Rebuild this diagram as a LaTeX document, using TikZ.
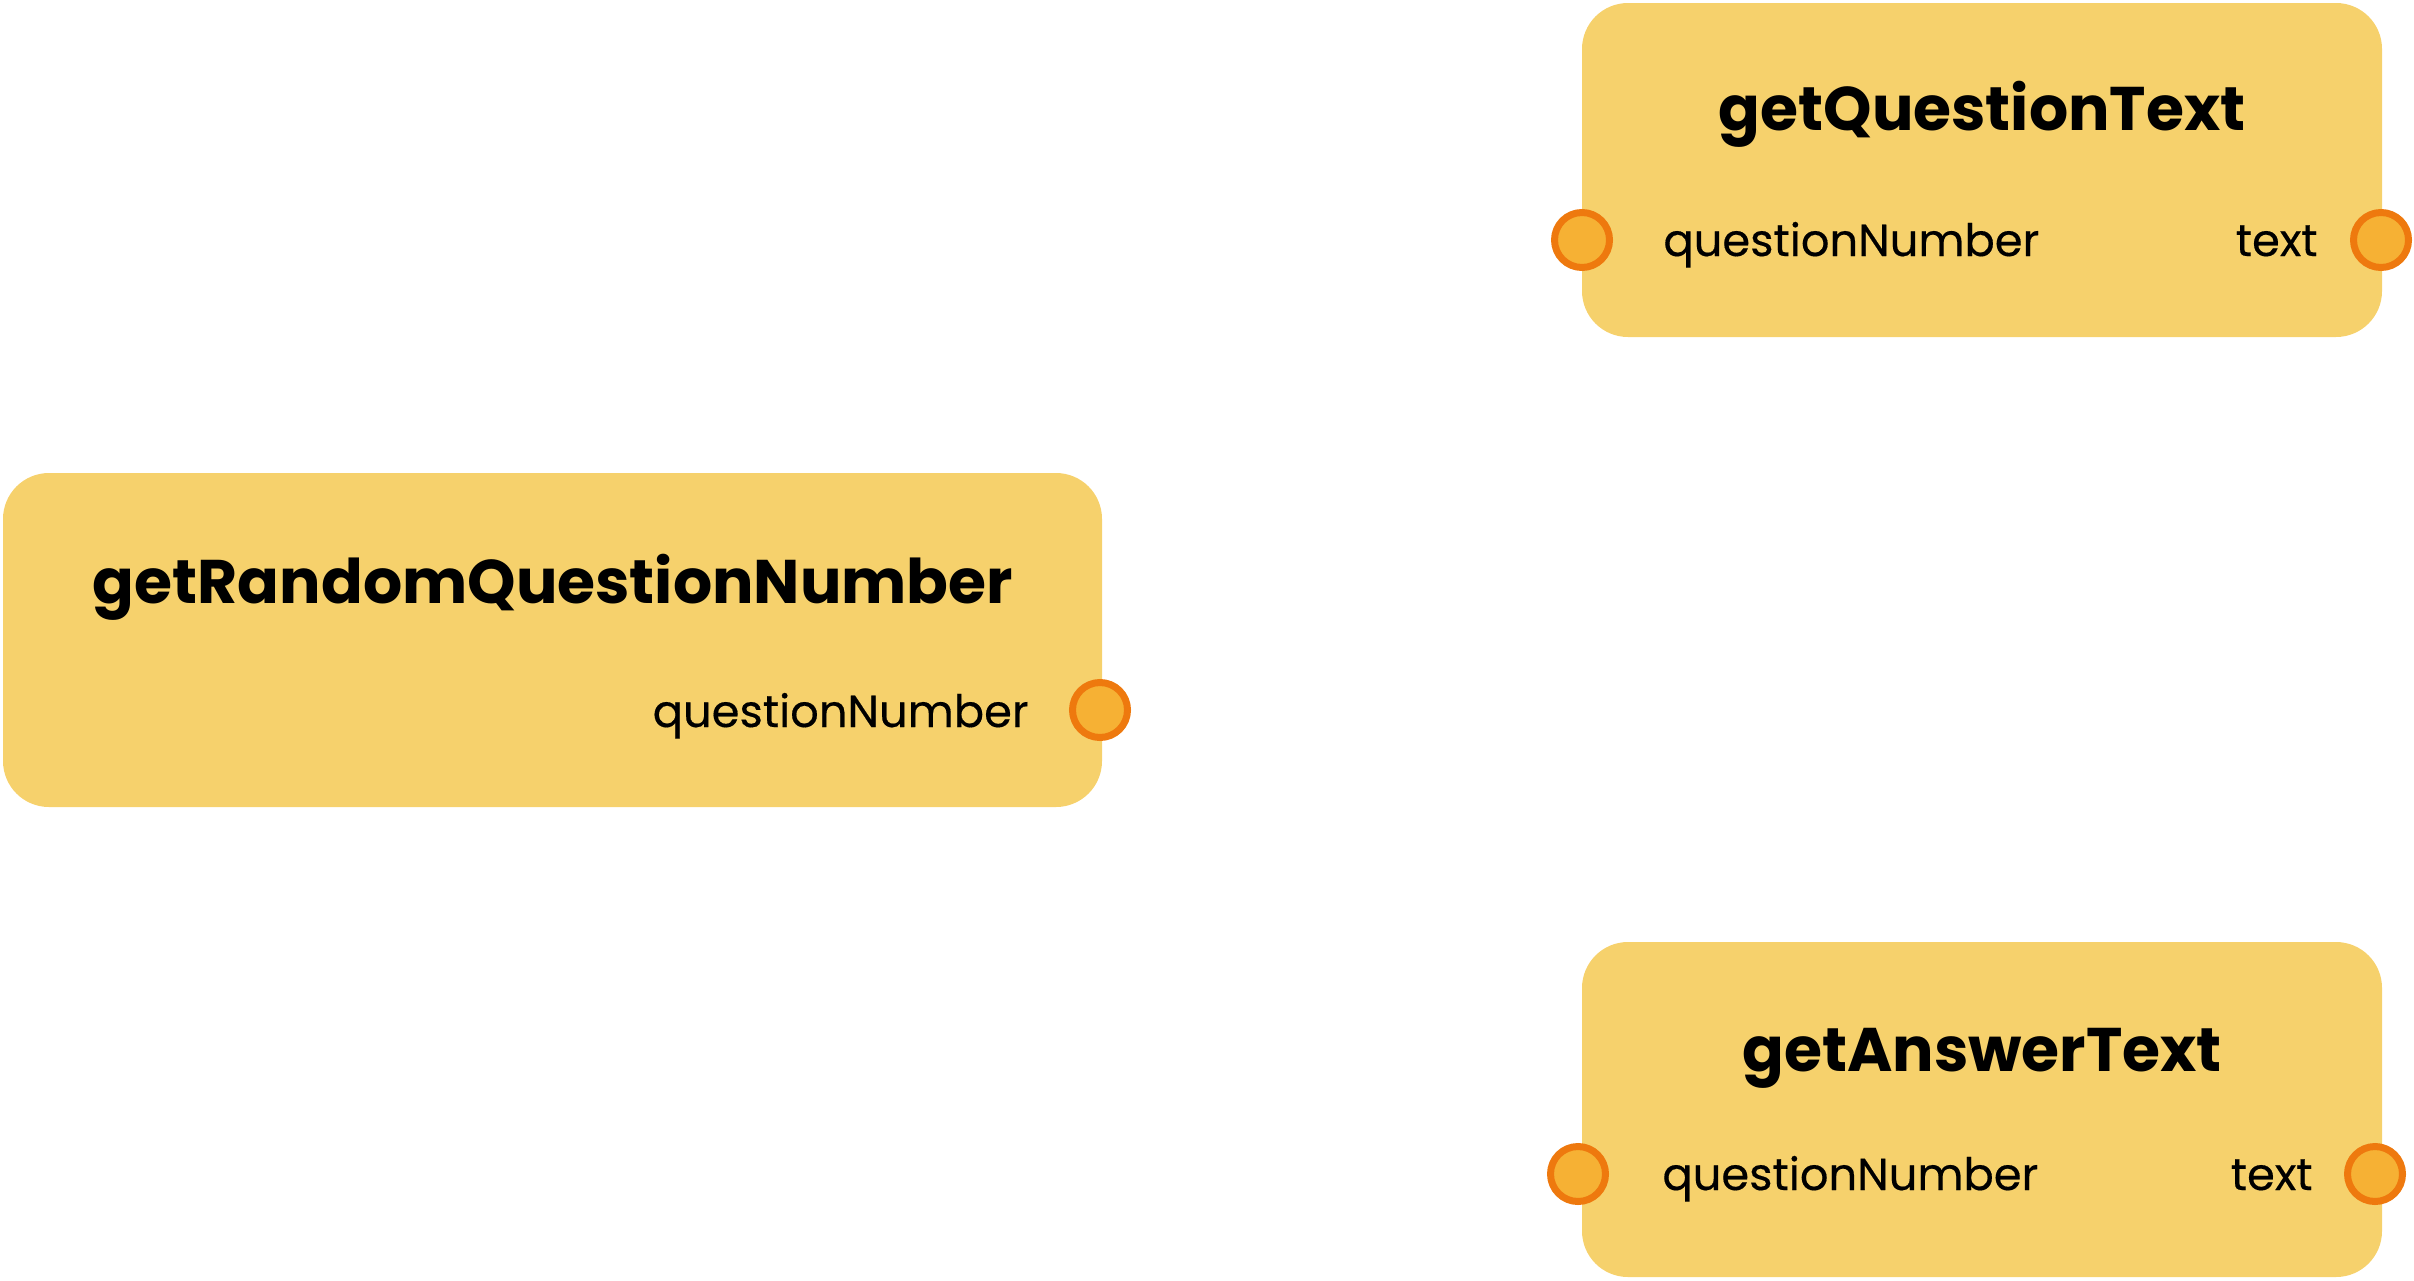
\documentclass[tikz,border=0pt]{standalone}
\usepackage{fontspec}
\setmainfont{Poppins}
\newfontfamily\labelfont[FakeBold=0.35]{Poppins}
\definecolor{boxfill}{HTML}{F6D16C}
\definecolor{portfill}{HTML}{F6B134}
\definecolor{portline}{HTML}{EE790E}
\begin{document}
\begin{tikzpicture}[x=0.5pt,y=-0.5pt,
  fnbox/.style={fill=boxfill, draw=none, rounded corners=23pt, inner sep=0pt},
  port/.style={circle, fill=portfill, draw=portline, line width=3.5pt, minimum size=27.5pt, inner sep=0pt},
  fntitle/.style={font=\bfseries\fontsize{30.8}{36}\selectfont, anchor=base, inner sep=0pt},
  plabel/.style={font=\labelfont\fontsize{22.4}{26}\selectfont, inner sep=0pt}]
\useasboundingbox (0,0) rectangle (2414,1280);
% boxes
\node[fnbox, minimum width=400pt, minimum height=167pt] (q) at (1982,170) {};
\node[fnbox, minimum width=549.5pt, minimum height=167pt] (r) at (552.5,640) {};
\node[fnbox, minimum width=400pt, minimum height=167.5pt] (a) at (1982,1109.5) {};
% titles
\node[fntitle] (qt) at (1982,130) {getQuestionText};
\node[fntitle] (rt) at (553,603) {getRandomQuestionNumber};
\node[fntitle] (at) at (1982,1071) {getAnswerText};
% labels
\node[plabel, anchor=base west] (qinl) at (1663,256) {questionNumber};
\node[plabel, anchor=base east] (qoutl) at (2318,256) {text};
\node[plabel, anchor=base east] (routl) at (1029,727) {questionNumber};
\node[plabel, anchor=base west] (ainl) at (1662,1190) {questionNumber};
\node[plabel, anchor=base east] (aoutl) at (2313,1190) {text};
% ports
\node[port] (qin) at (1582,240) {};
\node[port] (qout) at (2381,240) {};
\node[port] (rout) at (1100,710) {};
\node[port] (ain) at (1578,1174) {};
\node[port] (aout) at (2375,1174) {};
\end{tikzpicture}
\end{document}
